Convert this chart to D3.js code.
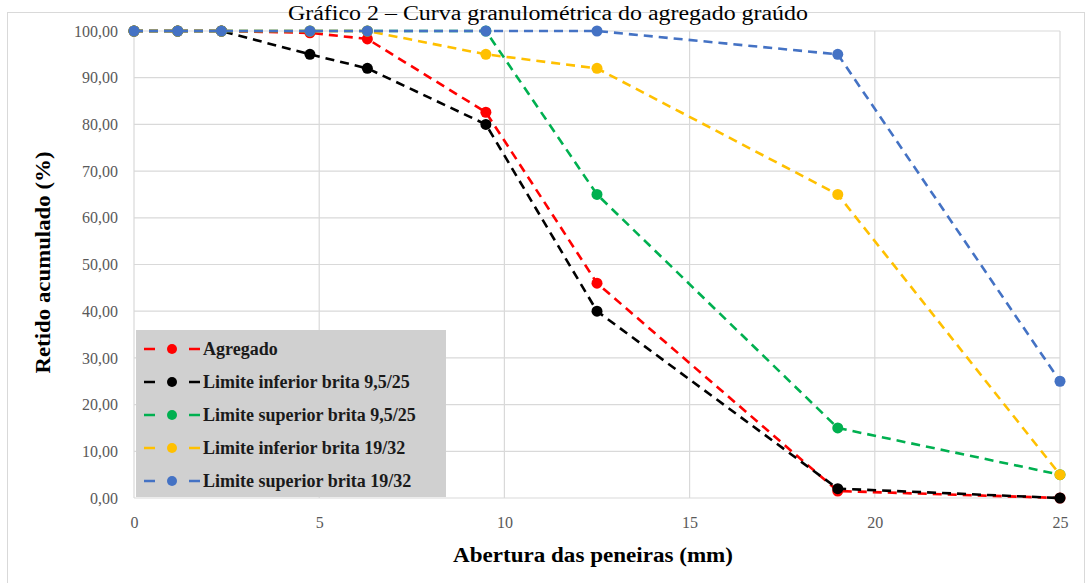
<!DOCTYPE html>
<html>
<head>
<meta charset="utf-8">
<script src="https://cdn.jsdelivr.net/npm/d3@7"></script>
<style>
  body { margin: 0; background: #fff; }
  text { font-family: "Liberation Serif", "Times New Roman", serif; }
</style>
</head>
<body>
<svg id="chart"></svg>
<script>
// sieve openings (mm)
const sieves = [0, 1.18, 2.36, 4.75, 6.3, 9.5, 12.5, 19, 25];
const seriesNames = [
  "Agregado",
  "Limite inferior brita 9,5/25",
  "Limite superior brita 9,5/25",
  "Limite inferior brita 19/32",
  "Limite superior brita 19/32"
];
const agregado = [100, 100, 100, 99.6, 98.3, 82.6, 46, 1.5, 0];
const infBrita9525 = [100, 100, 100, 95, 92, 80, 40, 2, 0];
const supBrita9525 = [100, 100, 100, 100, 100, 100, 65, 15, 5];
const infBrita1932 = [100, 100, 100, 100, 100, 95, 92, 65, 5];
const supBrita1932 = [100, 100, 100, 100, 100, 100, 100, 95, 25];
const colors = ["#ff0000", "#000000", "#00b050", "#ffc000", "#4472c4"];
const xTicks = [0, 5, 10, 15, 20, 25];
const yTicks = [0, 10, 20, 30, 40, 50, 60, 70, 80, 90, 100];

const allSeries = [agregado, infBrita9525, supBrita9525, infBrita1932, supBrita1932];

const W = 1088, H = 583;
const margin = { top: 31, right: 28, bottom: 85, left: 134 };
const width = W - margin.left - margin.right;
const height = H - margin.top - margin.bottom;

const root = d3.select("#chart").attr("width", W).attr("height", H);

// outer chart frame (runs past the bottom edge like the reference)
root.append("rect")
  .attr("x", 7.5).attr("y", 12.5)
  .attr("width", 1077).attr("height", 590)
  .attr("fill", "#fff").attr("stroke", "#d9d9d9");

root.append("text")
  .attr("x", 548).attr("y", 20)
  .attr("text-anchor", "middle")
  .attr("font-size", 20)
  .attr("textLength", 520)
  .attr("lengthAdjust", "spacingAndGlyphs")
  .attr("fill", "#000")
  .text("Gráfico 2 – Curva granulométrica do agregado graúdo");

const svg = root.append("g")
  .attr("transform", `translate(${margin.left},${margin.top})`);

const x = d3.scaleLinear().domain([0, 25]).range([0, width]);
const y = d3.scaleLinear().domain([0, 100]).range([height, 0]);

// gridlines
svg.append("g")
  .selectAll("line")
  .data(yTicks)
  .enter()
  .append("line")
  .attr("x1", 0).attr("x2", width)
  .attr("y1", d => y(d)).attr("y2", d => y(d))
  .attr("stroke", "#d9d9d9").attr("stroke-width", 1.2);

svg.append("g")
  .selectAll("line")
  .data(xTicks)
  .enter()
  .append("line")
  .attr("x1", d => x(d)).attr("x2", d => x(d))
  .attr("y1", 0).attr("y2", height)
  .attr("stroke", "#d9d9d9").attr("stroke-width", 1.2);

// axes
const xAxis = d3.axisBottom(x).tickValues(xTicks).tickSize(0).tickPadding(19);
const yAxis = d3.axisLeft(y).tickValues(yTicks).tickSize(0).tickPadding(16)
  .tickFormat(d => d3.format(".2f")(d).replace(".", ","));

const gx = svg.append("g").attr("transform", `translate(0,${height})`).call(xAxis);
const gy = svg.append("g").call(yAxis);
[gx, gy].forEach(g => {
  g.select(".domain").remove();
  g.selectAll("text")
    .attr("font-family", "Liberation Serif, Times New Roman, serif")
    .attr("font-size", 16)
    .attr("fill", "#595959");
});

// series
const line = d3.line()
  .x((d, i) => x(sieves[i]))
  .y(d => y(d));

allSeries.forEach((vals, k) => {
  svg.append("path")
    .datum(vals)
    .attr("d", line)
    .attr("fill", "none")
    .attr("stroke", colors[k])
    .attr("stroke-width", 2.6)
    .attr("stroke-dasharray", "9,6");

  svg.selectAll(".pt" + k)
    .data(vals)
    .enter()
    .append("circle")
    .attr("class", "pt" + k)
    .attr("cx", (d, i) => x(sieves[i]))
    .attr("cy", d => y(d))
    .attr("r", 5.5)
    .attr("fill", colors[k]);
});

// axis titles
root.append("text")
  .attr("transform", `translate(50,${margin.top + height / 2 - 2}) rotate(-90)`)
  .attr("text-anchor", "middle")
  .attr("font-size", 20)
  .attr("font-weight", "bold")
  .attr("textLength", 222)
  .attr("lengthAdjust", "spacingAndGlyphs")
  .text("Retido acumulado (%)");

root.append("text")
  .attr("x", 593)
  .attr("y", 562)
  .attr("text-anchor", "middle")
  .attr("font-size", 20)
  .attr("font-weight", "bold")
  .attr("textLength", 280)
  .attr("lengthAdjust", "spacingAndGlyphs")
  .text("Abertura das peneiras (mm)");

// legend
const legend = root.append("g").attr("transform", "translate(136,330)");
legend.append("rect")
  .attr("width", 310).attr("height", 167)
  .attr("fill", "#d0d0d0");

const items = legend.selectAll(".item")
  .data(seriesNames)
  .enter()
  .append("g")
  .attr("class", "item")
  .attr("transform", (d, i) => `translate(0,${19 + i * 33})`);

items.append("line")
  .attr("x1", 8).attr("x2", 64)
  .attr("stroke", (d, i) => colors[i])
  .attr("stroke-width", 2.6)
  .attr("stroke-dasharray", "11,34");
items.append("circle")
  .attr("cx", 36).attr("r", 5)
  .attr("fill", (d, i) => colors[i]);
items.append("text")
  .attr("x", 67).attr("dy", "0.35em")
  .attr("font-size", 18)
  .attr("font-weight", "bold")
  .attr("fill", "#1a1a1a")
  .text(d => d);
</script>
</body>
</html>
